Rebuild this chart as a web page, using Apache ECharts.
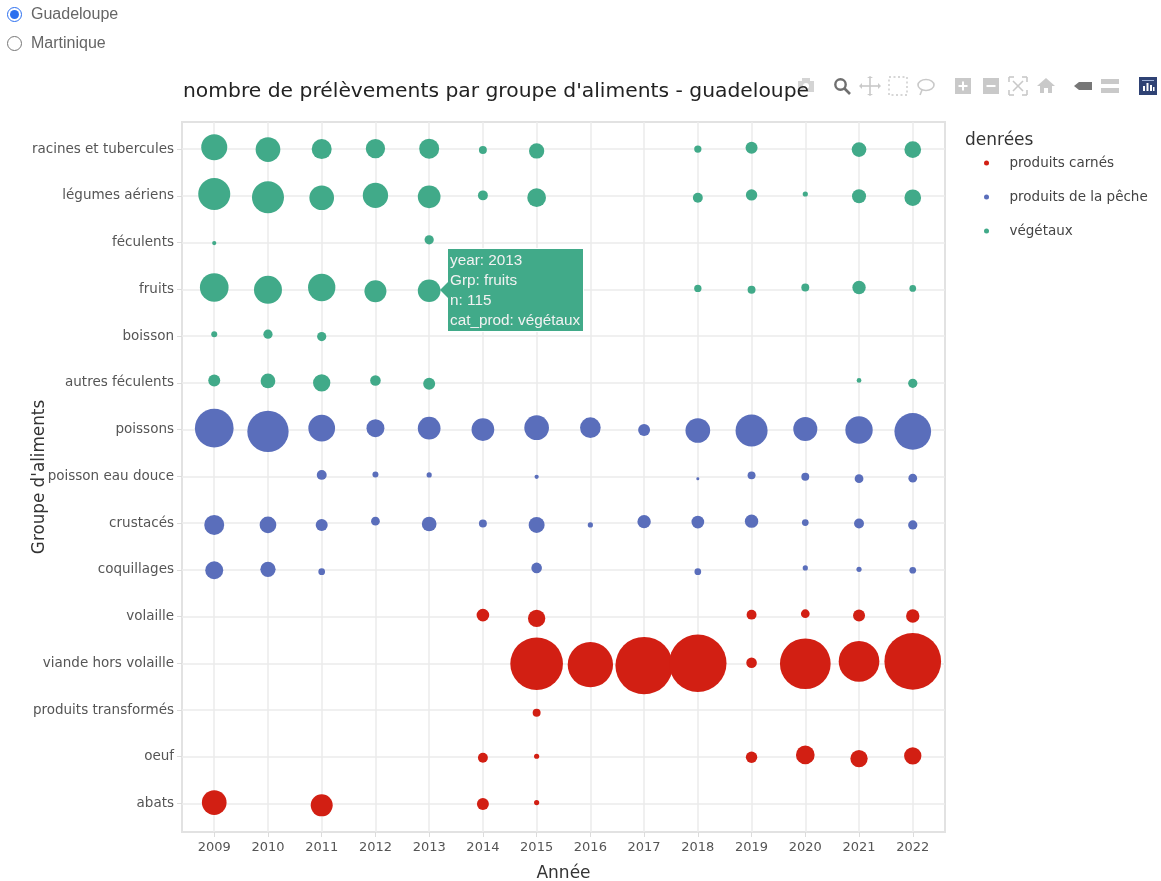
<!DOCTYPE html>
<html><head><meta charset="utf-8">
<script src="https://cdn.jsdelivr.net/npm/echarts@6/dist/echarts.min.js"></script>
<style>
html,body{margin:0;padding:0;background:#fff;overflow:hidden}
#c{position:absolute;left:0;top:0;width:1161px;height:881px}
.r{position:absolute;left:7px;display:flex;align-items:center;font:16px "Liberation Sans",Arial,sans-serif;color:#666;z-index:5}
.r input{margin:0 9px 0 0;width:15px;height:15px;accent-color:#2b6fef}
</style></head><body>
<div class="r" style="top:5px"><input type="radio" name="ile" checked>Guadeloupe</div>
<div class="r" style="top:34px"><input type="radio" name="ile">Martinique</div>
<div id="c"></div>
<script>
const years = [2009,2010,2011,2012,2013,2014,2015,2016,2017,2018,2019,2020,2021,2022];
const groups = ["abats","oeuf","produits transformés","viande hors volaille","volaille","coquillages","crustacés","poisson eau douce","poissons","autres féculents","boisson","fruits","féculents","légumes aériens","racines et tubercules"];
const positions = [1,2,3,4,5,6,7,8,9,10,11,12,13,14,15];
const seriesNames = ["produits carnés","produits de la pêche","végétaux"];
const seriesColors = ["#d21f13","#5a6ebb","#41aa89"];
// [year, jittered group position, n]
const carnes = [
 [2014,5.03,36],[2015,4.96,67],[2019,5.04,22],[2020,5.06,17],[2021,5.02,32],[2022,5.01,40],
 [2015,3.99,619],[2016,3.97,459],[2017,3.95,734],[2018,4,734],[2019,4.01,25],[2020,3.99,573],[2021,4.04,369],[2022,4.04,717],
 [2015,2.94,14],
 [2014,1.98,22],[2015,2.01,6],[2019,1.99,29],[2020,2.04,78],[2021,1.96,67],[2022,2.02,67],
 [2009,1.02,136],[2011,0.96,108],[2014,0.99,32],[2015,1.02,6]
];
const peche = [
 [2009,9.03,334],[2010,8.96,381],[2011,9.03,159],[2012,9.03,72],[2013,9.03,115],[2014,9,115],[2015,9.04,136],[2016,9.04,95],[2017,8.99,32],[2018,8.98,136],[2019,8.98,229],[2020,9.01,129],[2021,8.99,167],[2022,8.96,300],
 [2011,8.03,22],[2012,8.04,8],[2013,8.03,6],[2015,7.99,4],[2018,7.95,2],[2019,8.02,14],[2020,7.99,14],[2021,7.95,17],[2022,7.96,17],
 [2009,6.96,89],[2010,6.96,62],[2011,6.96,32],[2012,7.04,17],[2013,6.98,48],[2014,6.99,14],[2015,6.96,57],[2016,6.96,6],[2017,7.03,40],[2018,7.02,36],[2019,7.04,40],[2020,7.01,10],[2021,6.99,22],[2022,6.96,19],
 [2009,5.99,72],[2010,6.01,52],[2011,5.96,10],[2015,6.04,25],[2018,5.96,10],[2020,6.04,6],[2021,6.01,6],[2022,5.99,10]
];
const vegetaux = [
 [2009,15.04,151],[2010,14.99,136],[2011,15,89],[2012,15.01,83],[2013,15.01,89],[2014,14.98,14],[2015,14.96,52],[2018,15,12],[2019,15.03,32],[2021,14.99,48],[2022,14.99,62],
 [2009,14.04,229],[2010,13.97,229],[2011,13.96,136],[2012,14.01,143],[2013,13.98,115],[2014,14.01,22],[2015,13.96,78],[2018,13.96,22],[2019,14.02,29],[2020,14.04,6],[2021,13.99,44],[2022,13.96,62],
 [2009,12.99,4],[2013,13.06,19],
 [2009,12.04,183],[2010,11.99,175],[2011,12.04,167],[2012,11.96,108],[2013,11.97,115],[2018,12.02,12],[2019,11.99,14],[2020,12.04,14],[2021,12.04,40],[2022,12.02,10],
 [2009,11.04,8],[2010,11.04,19],[2011,10.99,19],
 [2009,10.05,32],[2010,10.04,48],[2011,10,67],[2012,10.05,25],[2013,9.98,32],[2021,10.05,5],[2022,9.99,19]
];
const tooltipPoint = [2013,11.97,115];

const F = '"DejaVu Sans",sans-serif';
const sizeFactor = 2.117;
const gridC = '#ebebeb', frameC = '#e2e2e2', tickC='#dcdcdc', iconC='#c9c9c9', iconD='#6f6f6f';

function icon(cx, cy, parts){ return {type:'group', x:cx, y:cy, silent:true, children:parts}; }
const line=(x1,y1,x2,y2,c=iconC,w=1.6,dash)=>({type:'line',shape:{x1,y1,x2,y2},style:{stroke:c,lineWidth:w,lineDash:dash}});
const rect=(x,y,width,height,fill=iconC)=>({type:'rect',shape:{x,y,width,height},style:{fill}});
const ring=(cx,cy,r,c=iconC,w=1.6)=>({type:'circle',shape:{cx,cy,r},style:{fill:'none',stroke:c,lineWidth:w}});
const box=(x,y,width,height,c=iconC,dash=[2,2])=>({type:'rect',shape:{x,y,width,height},style:{fill:'none',stroke:c,lineWidth:1.4,lineDash:dash}});
const poly=(points,fill=iconC)=>({type:'polygon',shape:{points},style:{fill}});
const modebar=[
 icon(806,86,[rect(-8,-5,16,11,'#d4d4d4'),rect(-4,-8,8,3,'#d4d4d4'),{type:'circle',shape:{cx:0,cy:0,r:3},style:{fill:'#fff'}}]),
 icon(842,86,[ring(-1.5,-1.5,5.2,iconD,2.4),line(2,2,8,8,iconD,2.6)]),
 icon(870,86,[line(-8,0,8,0),line(0,-8,0,8),poly([[-8,-3],[-11,0],[-8,3]]),poly([[8,-3],[11,0],[8,3]]),poly([[-3,-8],[0,-10],[3,-8]]),poly([[-3,8],[0,10],[3,8]])]),
 icon(898,86,[box(-9,-9,18,18,iconC,[2,2.5])]),
 icon(925,86,[{type:'ellipse',shape:{cx:1,cy:-1,rx:8,ry:5.5},style:{fill:'none',stroke:iconC,lineWidth:1.6}},line(-3,4,-5,9)]),
 icon(963,86,[rect(-8,-8,16,16),rect(-4.5,-1,9,2,'#fff'),rect(-1,-4.5,2,9,'#fff')]),
 icon(991,86,[rect(-8,-8,16,16),rect(-4.5,-1,9,2,'#fff')]),
 icon(1018,86,[line(-9,-9,-4,-9),line(-9,-9,-9,-4),line(9,-9,4,-9),line(9,-9,9,-4),line(-9,9,-4,9),line(-9,9,-9,4),line(9,9,4,9),line(9,9,9,4),line(-5,-5,5,5),line(5,-5,-5,5)]),
 icon(1046,86,[poly([[-9,0],[0,-8],[9,0],[6,0],[6,7],[2,7],[2,2],[-2,2],[-2,7],[-6,7],[-6,0]])]),
 icon(1083,86,[poly([[-9,0],[-4,-4],[9,-4],[9,4],[-4,4]],'#777')]),
 icon(1110,86,[rect(-9,-7,18,5),rect(-9,2,18,5)]),
 icon(1148,86,[rect(-9,-9,18,18,'#2f4274'),rect(-5,0,2,5,'#fff'),rect(-1.5,-3,2,8,'#fff'),rect(2,-1,2,6,'#fff'),rect(5,1,1.5,4,'#fff'),rect(-6,-6,12,1,'#9fb0d4')])
];

const chart = echarts.init(document.getElementById('c'),null,{renderer:'canvas'});
const mk = (name,data,color)=>({
  name,type:'scatter',data,encode:{x:0,y:1},
  symbol:'circle',symbolSize:v=>sizeFactor*Math.sqrt(v[2]),
  itemStyle:{color,opacity:1},emphasis:{disabled:true}
});
chart.setOption({
  animation:false,
  backgroundColor:'#fff',
  textStyle:{fontFamily:F},
  title:{text:"nombre de prélèvements par groupe d'aliments - guadeloupe",left:178,top:77,
    textStyle:{fontFamily:F,fontSize:20.3,fontWeight:'normal',color:'#222'}},
  grid:{left:182,right:216,top:122,bottom:49,show:true,borderColor:frameC,borderWidth:2,backgroundColor:'transparent',outerBoundsMode:'none'},
  xAxis:{type:'value',min:2008.4,max:2022.6,
    name:'Année',nameLocation:'middle',nameGap:33,nameMoveOverlap:false,nameTextStyle:{fontFamily:F,fontSize:17,color:'#333'},
    axisLine:{show:false},
    axisTick:{show:true,length:5,lineStyle:{color:tickC},customValues:years},
    axisLabel:{customValues:years,margin:9,fontSize:13,color:'#555',fontFamily:F,formatter:v=>String(v),showMinLabel:true,showMaxLabel:true},
    splitLine:{show:true,lineStyle:{color:gridC,width:1.5}}},
  yAxis:{type:'value',min:0.39,max:15.58,
    name:"Groupe d'aliments",nameLocation:'middle',nameGap:134,nameMoveOverlap:false,nameTextStyle:{fontFamily:F,fontSize:16.8,color:'#333'},
    axisLine:{show:false},
    axisTick:{show:true,length:5,lineStyle:{color:tickC},customValues:positions},
    axisLabel:{customValues:positions,margin:8,fontSize:13.5,color:'#555',fontFamily:F,formatter:v=>groups[Math.round(v)-1]},
    splitLine:{show:true,lineStyle:{color:gridC,width:1.5}}},
  legend:{show:true,orient:'vertical',left:979,top:151,itemWidth:36,itemHeight:5,itemGap:20,icon:'circle',
    data:seriesNames,selectedMode:false,textStyle:{fontFamily:F,fontSize:13.5,color:'#444',lineHeight:13}},
  tooltip:{show:true,trigger:'item',alwaysShowContent:true,transitionDuration:0,
    backgroundColor:seriesColors[2],borderColor:'#ffffff',borderWidth:1,padding:[1,3,1,2],
    position:p=>[p[0]+18,p[1]-42.5],
    extraCssText:'box-shadow:none;border-radius:0;overflow:visible;',
    textStyle:{fontFamily:'"Liberation Sans",Arial,sans-serif',fontSize:15.3,color:'#f2f2f2'},
    formatter:p=>{
      const cat=seriesNames[p.seriesIndex];
      return '<div style="position:relative;line-height:20px;">'+
       '<div style="position:absolute;left:-10px;top:32px;width:0;height:0;border-top:8px solid transparent;border-bottom:8px solid transparent;border-right:8px solid '+p.color+'"></div>'+
       'year: '+p.value[0]+'<br>Grp: '+groups[Math.round(p.value[1])-1]+'<br>n: '+p.value[2]+'<br>cat_prod: '+cat+'</div>';
    }},
  graphic:[
    {type:'text',left:965,top:132,silent:true,style:{text:'denrées',fontFamily:F,fontSize:17,fill:'#333'}},
    ...modebar
  ],
  series:[mk(seriesNames[0],carnes,seriesColors[0]),mk(seriesNames[1],peche,seriesColors[1]),mk(seriesNames[2],vegetaux,seriesColors[2])]
});
chart.dispatchAction({type:'showTip',seriesIndex:2,dataIndex:vegetaux.findIndex(d=>d[0]===tooltipPoint[0]&&d[1]===tooltipPoint[1])});
</script>
</body></html>
